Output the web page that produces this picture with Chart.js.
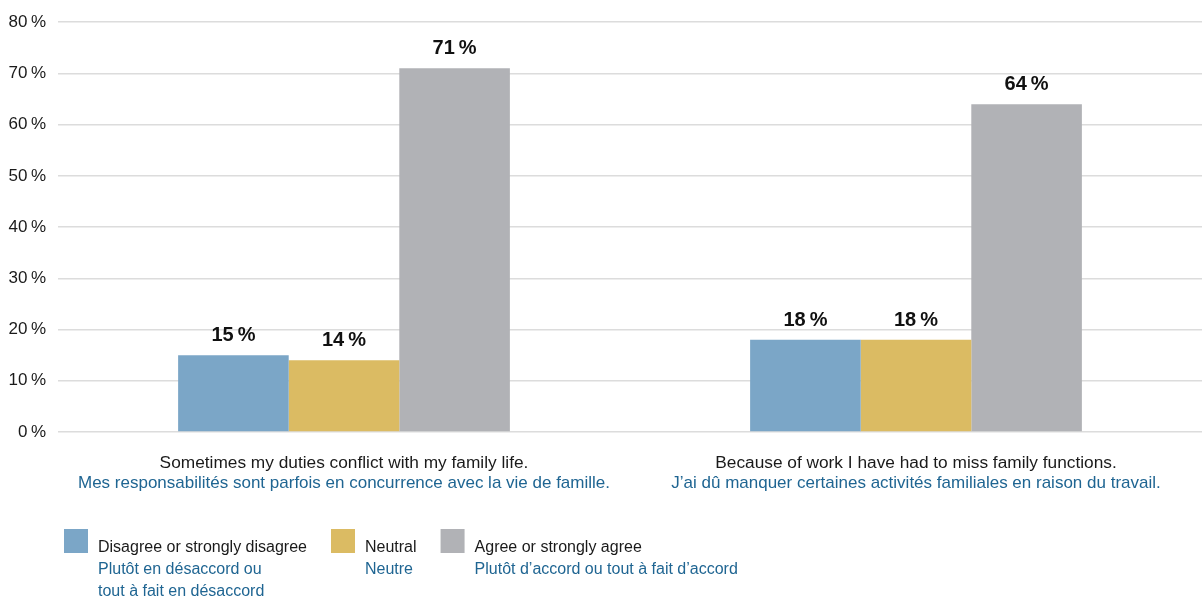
<!DOCTYPE html>
<html><head><meta charset="utf-8">
<script src="https://cdn.jsdelivr.net/npm/chart.js@4"></script>
<style>html,body{margin:0;padding:0;background:#fff}canvas{display:block}</style>
</head><body>
<canvas id="c" width="1202" height="599"></canvas>
<script>
const categoriesEn = ["Sometimes my duties conflict with my family life.", "Because of work I have had to miss family functions."];
const categoriesFr = ["Mes responsabilités sont parfois en concurrence avec la vie de famille.", "J’ai dû manquer certaines activités familiales en raison du travail."];
const seriesEn = ["Disagree or strongly disagree", "Neutral", "Agree or strongly agree"];
const seriesFr = [["Plutôt en désaccord ou", "tout à fait en désaccord"], ["Neutre"], ["Plutôt d’accord ou tout à fait d’accord"]];
const disagree = [15, 18];
const neutral = [14, 18];
const agree = [71, 64];
const yMin = 0, yMax = 80, yStep = 10;

const COLORS = ['#7BA6C7', '#DBBB63', '#B1B2B6'];
const BLUE_TEXT = '#1F6592';
const DARK_TEXT = '#1a1a1a';
const FONT = '"Liberation Sans", Arial, sans-serif';
const PCT = '\u2009%';

const dataLabels = {
  id: 'dataLabels',
  afterDatasetsDraw(chart) {
    const ctx = chart.ctx;
    ctx.save();
    ctx.font = 'bold 20px ' + FONT;
    ctx.fillStyle = '#111';
    ctx.textAlign = 'center';
    ctx.textBaseline = 'alphabetic';
    chart.data.datasets.forEach((ds, i) => {
      chart.getDatasetMeta(i).data.forEach((bar, j) => {
        ctx.fillText(ds.data[j] + PCT, bar.x, bar.y - 14);
      });
    });
    ctx.restore();
  }
};

const customLegend = {
  id: 'customLegend',
  afterDraw(chart) {
    const ctx = chart.ctx;
    ctx.save();
    ctx.font = '16px ' + FONT;
    ctx.textAlign = 'left';
    ctx.textBaseline = 'alphabetic';
    let x = 64;
    const top = 529, box = 24;
    chart.data.datasets.forEach((ds, i) => {
      ctx.fillStyle = ds.backgroundColor;
      ctx.fillRect(x, top, box, box);
      const tx = x + box + 10;
      ctx.fillStyle = DARK_TEXT;
      ctx.fillText(ds.label, tx, 552);
      let w = ctx.measureText(ds.label).width;
      ctx.fillStyle = BLUE_TEXT;
      seriesFr[i].forEach((line, k) => {
        ctx.fillText(line, tx, 574 + k * 21.5);
        w = Math.max(w, ctx.measureText(line).width);
      });
      x = tx + w + 24;
    });
    ctx.restore();
  }
};

new Chart(document.getElementById('c'), {
  type: 'bar',
  data: {
    labels: categoriesEn,
    datasets: [
      { label: seriesEn[0], data: disagree, backgroundColor: COLORS[0] },
      { label: seriesEn[1], data: neutral, backgroundColor: COLORS[1] },
      { label: seriesEn[2], data: agree, backgroundColor: COLORS[2] }
    ]
  },
  options: {
    responsive: false,
    animation: false,
    devicePixelRatio: 1,
    layout: { padding: { top: 19, left: 0, right: 0, bottom: 98 } },
    datasets: { bar: { categoryPercentage: 0.58, barPercentage: 1.0, borderWidth: 0 } },
    plugins: { legend: { display: false }, tooltip: { enabled: false } },
    scales: {
      x: {
        type: 'category',
        position: 'bottom',
        grid: { display: false, drawTicks: false },
        border: { display: false },
        ticks: { color: DARK_TEXT, font: { family: FONT, size: 17.3 }, padding: 21, maxRotation: 0, autoSkip: false },
        afterFit(scale) { scale.height = 41; }
      },
      x2: {
        type: 'category',
        position: 'bottom',
        labels: categoriesFr,
        grid: { display: false, drawTicks: false },
        border: { display: false },
        ticks: { color: BLUE_TEXT, font: { family: FONT, size: 17 }, padding: 0, maxRotation: 0, autoSkip: false },
        afterFit(scale) { scale.height = 28; }
      },
      y: {
        min: yMin, max: yMax,
        ticks: { stepSize: yStep, color: DARK_TEXT, font: { family: FONT, size: 17 }, padding: 12,
          callback: v => v + PCT },
        grid: { color: '#dcdcdc', lineWidth: 1.6, drawTicks: false },
        border: { display: false },
        afterFit(scale) { scale.width = 58; }
      }
    }
  },
  plugins: [dataLabels, customLegend]
});
</script>
</body></html>
